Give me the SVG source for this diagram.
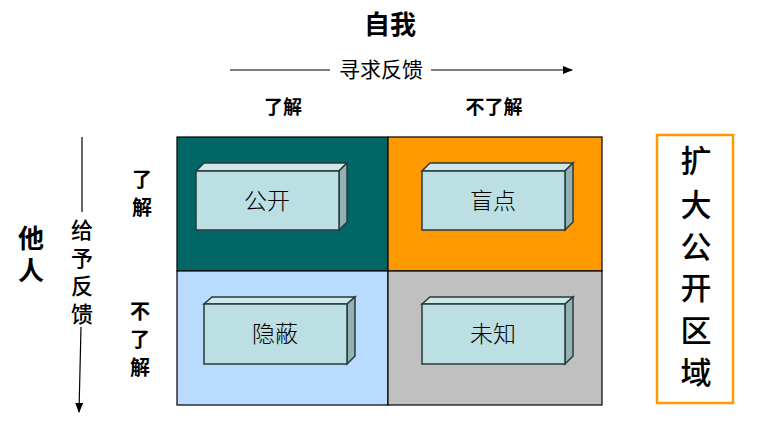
<svg xmlns="http://www.w3.org/2000/svg" width="759" height="425" viewBox="0 0 759 425">
<defs>
<style>
.t{font-family:"Liberation Sans","Noto Sans CJK SC",sans-serif;fill:#000;text-anchor:middle}
.b{font-weight:bold}
.m{font-weight:500}
.l{font-weight:300}
.face{fill:#BBDFE2;stroke:#2a3a3a;stroke-width:1.5}
.top{fill:#CDE8EA;stroke:#2a3a3a;stroke-width:1.5}
.side{fill:#93B2B4;stroke:#2a3a3a;stroke-width:1.5}
.cell{stroke:#000;stroke-width:1.2}
.ln{stroke:#000;stroke-width:1.2;fill:none}
</style>
<marker id="ah" markerWidth="10" markerHeight="8" refX="9" refY="4" orient="auto" markerUnits="userSpaceOnUse">
<path d="M0,0 L10,4 L0,8 Z" fill="#000"/>
</marker>
</defs>
<rect width="759" height="425" fill="#fff"/>

<g id="title-self"><text class="t b" x="390" y="34" font-size="26">自我</text></g>
<g id="title-others"><text class="t b" x="31" y="248" font-size="26">他</text><text class="t b" x="31" y="280" font-size="26">人</text></g>

<g id="connectors">
<line class="ln" x1="230" y1="70" x2="330" y2="70"/>
<line class="ln" x1="431" y1="70" x2="572" y2="70" marker-end="url(#ah)"/>
<line class="ln" x1="82" y1="137" x2="82" y2="212"/>
<line class="ln" x1="81" y1="327" x2="79" y2="412" marker-end="url(#ah)"/>
</g>

<g id="label-seek"><text class="t" x="381" y="77" font-size="21">寻求反馈</text></g>
<g id="label-give">
<text class="t m" x="82" y="238" font-size="22">给</text>
<text class="t m" x="82" y="266" font-size="22">予</text>
<text class="t m" x="82" y="294" font-size="22">反</text>
<text class="t m" x="82" y="322" font-size="22">馈</text>
</g>

<g id="col-know"><text class="t b" x="283" y="114" font-size="19">了解</text></g>
<g id="col-notknow"><text class="t b" x="494" y="114" font-size="19">不了解</text></g>
<g id="row-know"><text class="t b" x="142" y="187" font-size="20">了</text><text class="t b" x="142" y="215" font-size="20">解</text></g>
<g id="row-notknow"><text class="t b" x="140" y="319" font-size="20">不</text><text class="t b" x="140" y="347" font-size="20">了</text><text class="t b" x="140" y="375" font-size="20">解</text></g>

<g id="cell-open">
<rect class="cell" x="177" y="137" width="211" height="134" fill="#006666"/>
<polygon class="top" points="196,171 204,163 347,163 339,171"/>
<polygon class="side" points="339,171 347,163 347,222 339,230"/>
<rect class="face" x="196" y="171" width="143" height="59"/>
<text class="t l" x="267" y="209" font-size="23">公开</text>
</g>
<g id="cell-blind">
<rect class="cell" x="388" y="137" width="214" height="134" fill="#FF9900"/>
<polygon class="top" points="422,171 430,163 573,163 565,171"/>
<polygon class="side" points="565,171 573,163 573,222 565,230"/>
<rect class="face" x="422" y="171" width="143" height="59"/>
<text class="t l" x="493" y="209" font-size="23">盲点</text>
</g>
<g id="cell-hidden">
<rect class="cell" x="177" y="271" width="211" height="134" fill="#B8DBFF"/>
<polygon class="top" points="204,304 212,297 355,297 347,304"/>
<polygon class="side" points="347,304 355,297 355,356 347,364"/>
<rect class="face" x="204" y="304" width="143" height="60"/>
<text class="t l" x="275" y="342" font-size="23">隐蔽</text>
</g>
<g id="cell-unknown">
<rect class="cell" x="388" y="271" width="214" height="134" fill="#C0C0C0"/>
<polygon class="top" points="422,304 430,297 573,297 565,304"/>
<polygon class="side" points="565,304 573,297 573,356 565,364"/>
<rect class="face" x="422" y="304" width="143" height="60"/>
<text class="t l" x="493" y="342" font-size="23">未知</text>
</g>

<g id="expand-open">
<rect x="657" y="135" width="76" height="268" fill="#fff" stroke="#FF9900" stroke-width="2.5"/>
<text class="t m" x="696" y="172" font-size="31">扩</text>
<text class="t m" x="696" y="216" font-size="31">大</text>
<text class="t m" x="696" y="258" font-size="31">公</text>
<text class="t m" x="696" y="299" font-size="31">开</text>
<text class="t m" x="696" y="342" font-size="31">区</text>
<text class="t m" x="696" y="384" font-size="31">域</text>
</g>
</svg>
